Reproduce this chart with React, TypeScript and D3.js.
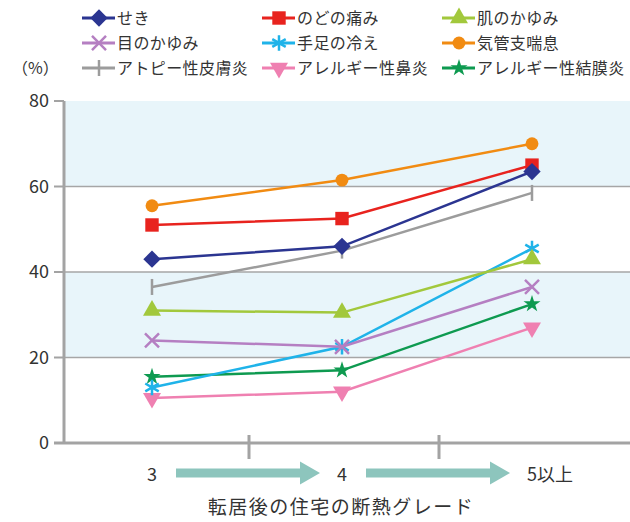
import * as d3 from 'd3';
import React, { useEffect, useRef } from 'react';

// 断熱グレード別の症状改善率 (%)
const grades = ['3', '4', '5以上'];
const seriesNames = [
  'せき', 'のどの痛み', '肌のかゆみ',
  '目のかゆみ', '手足の冷え', '気管支喘息',
  'アトピー性皮膚炎', 'アレルギー性鼻炎', 'アレルギー性結膜炎',
];
const seriesColors = [
  '#2b3591', '#e8231e', '#a2c83c',
  '#b57fc2', '#1fb3e9', '#f18b12',
  '#9c9c9c', '#ef80b1', '#0e9a50',
];
const seriesMarkers = [
  'diamond', 'square', 'triangle',
  'times', 'asterisk', 'circle',
  'bar', 'triangleDown', 'star',
];
const seki = [43, 46, 63.5];
const nodo = [51, 52.5, 65];
const hada = [31, 30.5, 43];
const me = [24, 22.5, 36.5];
const teashi = [13, 22.5, 45.5];
const kikanshi = [55.5, 61.5, 70];
const atopy = [36.5, 45, 58.5];
const bien = [10.5, 12, 27];
const ketsumakuen = [15.5, 17, 32.5];
const seriesValues = [seki, nodo, hada, me, teashi, kikanshi, atopy, bien, ketsumakuen];
const yTicks = [0, 20, 40, 60, 80];

const FONT = '"Noto Sans CJK JP", "Noto Sans", sans-serif';

function markerPath(kind: string) {
  switch (kind) {
    case 'diamond': return d3.symbol(d3.symbolSquare, 150)();
    case 'square': return d3.symbol(d3.symbolSquare, 180)();
    case 'triangle':
    case 'triangleDown': return d3.symbol(d3.symbolTriangle, 140)();
    case 'times': return d3.symbol(d3.symbolTimes, 130)();
    case 'asterisk': return d3.symbol(d3.symbolAsterisk, 170)();
    case 'circle': return d3.symbol(d3.symbolCircle, 130)();
    case 'bar': {
      // 縦棒のみ (横棒は折れ線が兼ねる)
      const p = d3.path();
      p.moveTo(0, -8);
      p.lineTo(0, 8);
      return p.toString();
    }
    case 'star': return d3.symbol(d3.symbolStar, 90)();
  }
  return '';
}

function drawMarker(g: any, kind: string, color: string, x: number, y: number) {
  const stroked = kind === 'times' || kind === 'asterisk' || kind === 'bar';
  let rot = 0;
  if (kind === 'diamond') rot = 45;
  if (kind === 'triangleDown') rot = 180;
  g.append('path')
    .attr('d', markerPath(kind))
    .attr('transform', `translate(${x},${y}) rotate(${rot})`)
    .attr('fill', stroked ? 'none' : color)
    .attr('stroke', stroked ? color : 'none')
    .attr('stroke-width', stroked ? 2.5 : 0);
}

function App() {
  const ref = useRef<SVGSVGElement>(null);

  useEffect(() => {
    const svg = d3.select(ref.current);
    svg.selectAll('*').remove();

    const left = 64, right = 630, top = 101, bottom = 443;
    const y = d3.scaleLinear().domain([0, 80]).range([bottom, top]);
    const x = d3.scalePoint().domain(grades).range([152, 532]);

    // 背景の帯 (20-40, 60-80)
    [[20, 40], [60, 80]].forEach(([a, b]) => {
      svg.append('rect')
        .attr('x', left).attr('y', y(b))
        .attr('width', right - left).attr('height', y(a) - y(b))
        .attr('fill', '#e8f5fa');
    });

    // グリッド線
    svg.selectAll('line.grid')
      .data([20, 40, 60])
      .enter()
      .append('line')
      .attr('x1', left).attr('x2', right)
      .attr('y1', d => y(d)).attr('y2', d => y(d))
      .attr('stroke', '#a6a6a6')
      .attr('stroke-width', 1.5);

    // y軸
    svg.append('line')
      .attr('x1', left).attr('x2', left)
      .attr('y1', top).attr('y2', bottom)
      .attr('stroke', '#a3a3a3').attr('stroke-width', 3);
    svg.selectAll('line.ytick')
      .data(yTicks)
      .enter()
      .append('line')
      .attr('x1', 54).attr('x2', left)
      .attr('y1', d => y(d)).attr('y2', d => y(d))
      .attr('stroke', '#a3a3a3').attr('stroke-width', 2);
    svg.selectAll('text.ylab')
      .data(yTicks)
      .enter()
      .append('text')
      .attr('x', 49).attr('y', d => y(d) + 6)
      .attr('text-anchor', 'end')
      .attr('font-family', FONT)
      .attr('font-size', 18)
      .attr('fill', '#333')
      .text(d => d);

    // x軸
    svg.append('line')
      .attr('x1', 54).attr('x2', right)
      .attr('y1', bottom).attr('y2', bottom)
      .attr('stroke', '#a3a3a3').attr('stroke-width', 3);
    const step = x.step();
    svg.selectAll('line.xtick')
      .data(grades.slice(0, -1))
      .enter()
      .append('line')
      .attr('x1', d => x(d)! + step / 2 + 2).attr('x2', d => x(d)! + step / 2 + 2)
      .attr('y1', bottom - 8).attr('y2', bottom + 16)
      .attr('stroke', '#a3a3a3').attr('stroke-width', 3);
    svg.selectAll('text.xlab')
      .data(grades)
      .enter()
      .append('text')
      .attr('x', d => x(d)! - 5).attr('y', 481)
      .attr('font-family', FONT)
      .attr('font-size', 18)
      .attr('fill', '#333')
      .text(d => d);

    // グレード間の矢印
    grades.slice(0, -1).forEach((g, i) => {
      const x0 = x(g)! + 24;
      const x1 = x(grades[i + 1])! - 22;
      const cy = 473;
      const p = d3.path();
      p.moveTo(x0, cy - 4.5);
      p.lineTo(x1 - 20, cy - 4.5);
      p.lineTo(x1 - 20, cy - 11.5);
      p.lineTo(x1, cy);
      p.lineTo(x1 - 20, cy + 11.5);
      p.lineTo(x1 - 20, cy + 4.5);
      p.lineTo(x0, cy + 4.5);
      p.closePath();
      svg.append('path').attr('d', p.toString()).attr('fill', '#8dc5bd');
    });

    svg.append('text')
      .attr('x', 341).attr('y', 514)
      .attr('text-anchor', 'middle')
      .attr('font-family', FONT)
      .attr('font-size', 19)
      .attr('letter-spacing', 1.5)
      .attr('fill', '#333')
      .text('転居後の住宅の断熱グレード');

    // 折れ線と記号 (後ろから描いて「せき」を最前面に)
    const line = d3.line<number>()
      .x((_, i) => x(grades[i])!)
      .y(d => y(d));
    const order = d3.range(seriesNames.length).reverse();
    order.forEach(k => {
      const g = svg.append('g');
      g.append('path')
        .attr('d', line(seriesValues[k]))
        .attr('fill', 'none')
        .attr('stroke', seriesColors[k])
        .attr('stroke-width', 2.5);
      seriesValues[k].forEach((v, i) => {
        drawMarker(g, seriesMarkers[k], seriesColors[k], x(grades[i])!, y(v));
      });
    });

    // 凡例
    const legendX = [82, 262, 442];
    const legendY = [18, 43, 68];
    seriesNames.forEach((name, k) => {
      const lx = legendX[k % 3];
      const ly = legendY[Math.floor(k / 3)];
      const g = svg.append('g');
      g.append('line')
        .attr('x1', lx).attr('x2', lx + 33)
        .attr('y1', ly).attr('y2', ly)
        .attr('stroke', seriesColors[k]).attr('stroke-width', 3);
      drawMarker(g, seriesMarkers[k], seriesColors[k], lx + 17, ly);
      g.append('text')
        .attr('x', lx + 35).attr('y', ly + 6)
        .attr('font-family', FONT)
        .attr('font-size', 16)
        .attr('letter-spacing', 0.4)
        .attr('fill', '#333')
        .text(name);
    });

    svg.append('text')
      .attr('x', 12).attr('y', 74)
      .attr('font-family', FONT)
      .attr('font-size', 16)
      .attr('fill', '#333')
      .text('（%）');
  }, []);

  return (
    <svg ref={ref} width={630} height={522}
      style={{ position: 'absolute', left: 0, top: 0, background: '#fff' }} />
  );
}

export default App;
